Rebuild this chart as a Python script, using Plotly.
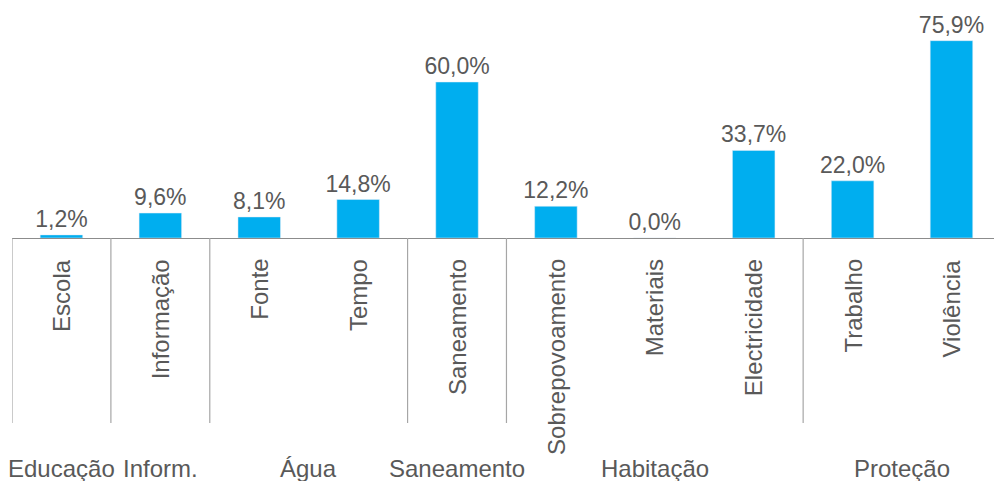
import plotly.graph_objects as go

categories = ["Escola", "Informação", "Fonte", "Tempo", "Saneamento",
              "Sobrepovoamento", "Materiais", "Electricidade", "Trabalho", "Violência"]
values = [1.2, 9.6, 8.1, 14.8, 60.0, 12.2, 0.0, 33.7, 22.0, 75.9]
groups = ["Educação", "Inform.", "Água", "Saneamento", "Habitação", "Proteção"]
group_members = [[0], [1], [2, 3], [4], [5, 6, 7], [8, 9]]

labels = [f"{v:.1f}%".replace(".", ",") for v in values]
FONT = "Liberation Sans, Arial, sans-serif"
TXT = "#595959"
FS = 24

fig = go.Figure(go.Bar(
    x=list(range(len(categories))), y=values,
    marker_color="#00AEEF", width=0.43,
    text=labels, textposition="outside", cliponaxis=False, constraintext="none",
    textfont=dict(family=FONT, size=23, color=TXT),
))

W, H = 994, 481
ml, mr, mt, mb = 12, 0, 30, 243
plot_h = H - mt - mb
line_bottom = -(423 - 238) / plot_h

shapes = []
sep_positions = [-0.5] + [m[0] - 0.5 for m in group_members[1:]]
for xp in sep_positions:
    shapes.append(dict(type="line", xref="x", yref="paper", x0=xp, x1=xp,
                       y0=0, y1=line_bottom, line=dict(color="#a6a6a6", width=1.2)))

annotations = []
for i, c in enumerate(categories):
    annotations.append(dict(x=i, y=0, xref="x", yref="paper", text=c, textangle=-90,
                            showarrow=False, xanchor="center", yanchor="top", yshift=-19,
                            font=dict(family=FONT, size=FS, color=TXT)))
for g, m in zip(groups, group_members):
    annotations.append(dict(x=sum(m) / len(m), y=(238 - 468) / plot_h,
                            xref="x", yref="paper", text=g, showarrow=False,
                            xanchor="center", yanchor="middle",
                            font=dict(family=FONT, size=FS, color=TXT)))

fig.update_layout(
    width=W, height=H, margin=dict(l=ml, r=mr, t=mt, b=mb),
    plot_bgcolor="white", paper_bgcolor="white", showlegend=False,
    xaxis=dict(range=[-0.5, 9.43], showticklabels=False, ticks="", showgrid=False,
               zeroline=False, showline=True, linecolor="#8c8c8c", linewidth=1.2,
               fixedrange=True),
    yaxis=dict(range=[0, 80], visible=False, showgrid=False, fixedrange=True),
    shapes=shapes, annotations=annotations,
)

fig.write_html("out.html", config={"displayModeBar": False},
               post_script="document.body.style.margin='0';")
